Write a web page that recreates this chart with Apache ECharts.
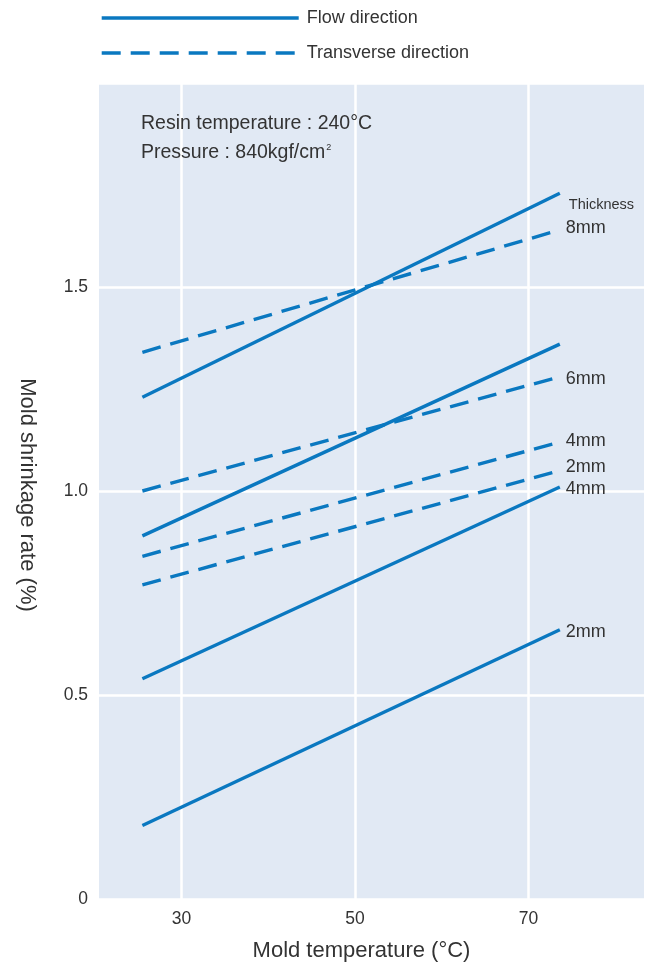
<!DOCTYPE html>
<html>
<head>
<meta charset="utf-8">
<script src="https://cdn.jsdelivr.net/npm/echarts@6/dist/echarts.min.js"></script>
<style>
  html, body { margin: 0; padding: 0; background: #ffffff; }
  #chart { width: 648px; height: 968px; }
</style>
</head>
<body>
<div id="chart"></div>
<script>
// Mold temperature range covered by each line (°C)
const moldTemps = [25.5, 73.6];

// Shrinkage rate (%) in the flow direction, by wall thickness
const flow2mm = [0.18, 0.66];
const flow4mm = [0.54, 1.01];
const flow6mm = [0.89, 1.36];
const flow8mm = [1.23, 1.73];

// Shrinkage rate (%) in the transverse direction, by wall thickness
const trans2mm = [0.77, 1.05];
const trans4mm = [0.84, 1.12];
const trans6mm = [1.00, 1.28];
const trans8mm = [1.34, 1.64];

const xTicks = [30, 50, 70];
const yTicks = [0, 0.5, 1.0, 1.5];

const FONT = '"Liberation Sans", Arial, Helvetica, sans-serif';
const BLUE = '#0a78c0';
const TEXT = '#333333';
const DASH = [19, 10];
const LINE_W = 3.4;

function pairs(values) {
  return moldTemps.map((t, i) => [t, values[i]]);
}

function lineSeries(name, values, dashed, label, offset, size) {
  const s = {
    name: name,
    type: 'line',
    data: pairs(values),
    symbol: 'none',
    silent: true,
    lineStyle: { color: BLUE, width: LINE_W, type: dashed ? DASH : 'solid', cap: 'butt' },
    itemStyle: { color: BLUE }
  };
  if (label) {
    s.endLabel = {
      show: true,
      formatter: label,
      distance: 0,
      offset: offset,
      color: TEXT,
      fontFamily: FONT,
      fontSize: size || 18
    };
  }
  return s;
}

const FLOW = 'Flow direction';
const TRANS = 'Transverse direction';

const series = [
  lineSeries(FLOW, flow2mm, false, '2mm', [6, 2]),
  lineSeries(FLOW, flow4mm, false, '4mm', [6, 2]),
  lineSeries(FLOW, flow6mm, false, null),
  lineSeries(FLOW, flow8mm, false, 'Thickness', [9, 12], 14.5),
  lineSeries(TRANS, trans2mm, true, '2mm', [6, -4]),
  lineSeries(TRANS, trans4mm, true, '4mm', [6, -1]),
  lineSeries(TRANS, trans6mm, true, '6mm', [6, 2]),
  lineSeries(TRANS, trans8mm, true, '8mm', [6, -2])
];

const chart = echarts.init(document.getElementById('chart'), null, { renderer: 'canvas' });

chart.setOption({
  animation: false,
  backgroundColor: '#ffffff',
  textStyle: { fontFamily: FONT, color: TEXT },
  legend: {
    orient: 'vertical',
    left: 100,
    top: 9,
    padding: 0,
    itemWidth: 197,
    itemHeight: 14,
    itemGap: 17,
    data: [FLOW, TRANS],
    selectedMode: false,
    itemStyle: { opacity: 0, borderWidth: 0 },
    lineStyle: { width: LINE_W },
    textStyle: { fontFamily: FONT, fontSize: 18, color: TEXT, padding: [0, 0, 0, 3] }
  },
  grid: {
    left: 99,
    right: 4,
    top: 83,
    bottom: 69,
    show: true,
    backgroundColor: '#e1e9f4',
    borderWidth: 0
  },
  xAxis: {
    type: 'value',
    min: 20.5,
    max: 83.3,
    name: 'Mold temperature (°C)',
    nameLocation: 'middle',
    nameGap: 41,
    nameTextStyle: { fontFamily: FONT, fontSize: 22, color: TEXT, padding: [0, 20, 0, 0] },
    axisLine: { show: false },
    axisTick: { show: false, customValues: xTicks },
    axisLabel: {
      customValues: xTicks,
      margin: 11,
      fontFamily: FONT,
      fontSize: 17.5,
      color: TEXT
    },
    splitLine: { show: true, lineStyle: { color: '#ffffff', width: 2.5 } }
  },
  yAxis: {
    type: 'value',
    min: 0,
    max: 2,
    interval: 0.5,
    name: 'Mold shrinkage rate (%)',
    nameLocation: 'middle',
    nameRotate: -90,
    nameGap: 61,
    nameTextStyle: { fontFamily: FONT, fontSize: 22, color: TEXT, padding: [0, 0, 0, 8] },
    axisLine: { show: false },
    axisTick: { show: false },
    axisLabel: {
      margin: 11,
      fontFamily: FONT,
      fontSize: 17.5,
      color: TEXT,
      formatter: function (v) {
        if (yTicks.indexOf(v) < 0) return '';
        return v === 0 ? '0' : v.toFixed(1);
      }
    },
    splitLine: { show: true, lineStyle: { color: '#ffffff', width: 2.5 } }
  },
  graphic: [
    {
      type: 'text',
      left: 141,
      top: 114,
      z: 100,
      silent: true,
      style: {
        text: 'Resin temperature : 240°C',
        fontFamily: FONT,
        fontSize: 19.5,
        fill: TEXT
      }
    },
    {
      type: 'text',
      left: 141,
      top: 143,
      z: 100,
      silent: true,
      style: {
        text: 'Pressure : 840kgf/cm{sup|2}',
        fontFamily: FONT,
        fontSize: 19.5,
        fill: TEXT,
        rich: {
          sup: { fontSize: 9, fontFamily: FONT, fill: TEXT, verticalAlign: 'top', padding: [0, 0, 9, 1] }
        }
      }
    }
  ],
  series: series
});
</script>
</body>
</html>
